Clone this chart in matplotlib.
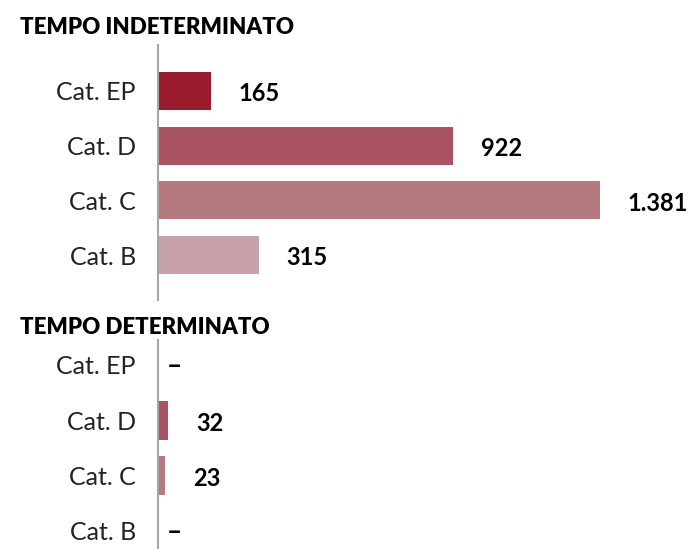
import matplotlib
matplotlib.use("Agg")
import matplotlib.pyplot as plt

categories = ["Cat. EP", "Cat. D", "Cat. C", "Cat. B"]
indeterminato = [165, 922, 1381, 315]
determinato = [None, 32, 23, None]
colors = ["#9b1b2e", "#a85262", "#b47a80", "#c8a2a8"]
titles = ["TEMPO INDETERMINATO", "TEMPO DETERMINATO"]

plt.rcParams["font.family"] = ["Lato", "DejaVu Sans"]

W, H = 697, 549
fig = plt.figure(figsize=(W / 100, H / 100), dpi=100)

px_per_unit = 442 / 1381
x0 = 158


def fmt(v):
    return f"{v:,}".replace(",", ".")


def panel(values, top, bottom, first_row, step, title, title_y):
    ax = fig.add_axes([x0 / W, 1 - bottom / H, (W - x0) / W, (bottom - top) / H])
    ax.set_xlim(0, (W - x0) / px_per_unit)
    ylo = -(first_row - top) / step
    yhi = 3 + (bottom - (first_row + 3 * step)) / step
    ax.set_ylim(yhi, ylo)
    pos = range(len(categories))
    vals = [v if v is not None else 0 for v in values]
    ax.barh(pos, vals, height=0.7, color=colors)
    for i, v in enumerate(values):
        if v is None:
            ax.annotate("–", (0, i), xytext=(6, -1), textcoords="offset points",
                        va="center", ha="left", fontsize=19, fontweight="bold")
        else:
            ax.annotate(fmt(v), (v, i), xytext=(20, -2), textcoords="offset points",
                        va="center", ha="left", fontsize=17, fontweight="bold")
    ax.set_yticks(list(pos))
    ax.set_yticklabels(categories, fontsize=18, color="#222222")
    ax.tick_params(axis="y", length=0, pad=16)
    ax.set_xticks([])
    for s in ["top", "right", "bottom"]:
        ax.spines[s].set_visible(False)
    ax.spines["left"].set_color("#a6a6a6")
    ax.spines["left"].set_linewidth(1.5)
    ax.patch.set_visible(False)
    fig.text(20 / W, 1 - title_y / H, title, fontsize=16, fontweight="heavy",
             va="center", ha="left")


panel(indeterminato, 45, 300, 91, 54.67, titles[0], 28)
panel(determinato, 340, 549, 365, 55.3, titles[1], 327)

fig.savefig("out.png", dpi=100)
